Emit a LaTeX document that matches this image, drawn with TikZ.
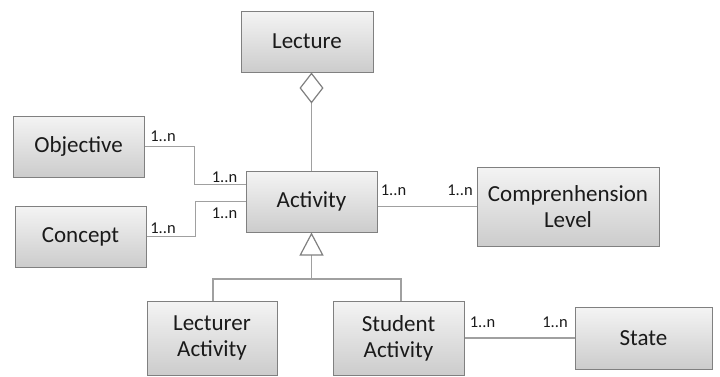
\documentclass[tikz,border=0pt]{standalone}
\usepackage{fontspec}
\setmainfont{Carlito}
\usetikzlibrary{arrows.meta}
\definecolor{boxborder}{HTML}{808080}
\definecolor{boxtop}{HTML}{F4F4F4}
\definecolor{boxbot}{HTML}{CCCCCC}
\definecolor{linecol}{HTML}{A0A0A0}
\definecolor{txt}{HTML}{1A1A1A}
\tikzset{
  cls/.style={draw=boxborder, line width=1pt, top color=boxtop, bottom color=boxbot,
    align=center, text=txt, inner sep=0pt,
    font=\fontsize{23}{26}\selectfont},
  conn/.style={draw=linecol, line width=1.2pt},
  mult/.style={text=txt, inner sep=0pt, font=\fontsize{16.5}{18}\selectfont}
}
\begin{document}
\begin{tikzpicture}[x=1pt,y=-1pt]
\useasboundingbox (0,0) rectangle (720,376);
\node[cls, minimum width=132pt, minimum height=61pt] (lecture) at (307,41.5) {Lecture};
\node[cls, minimum width=131pt, minimum height=61pt] (activity) at (311.5,201.5) {Activity};
\node[cls, minimum width=131pt, minimum height=61pt] (objective) at (78.5,146.5) {Objective};
\node[cls, minimum width=131pt, minimum height=61pt] (concept) at (80.5,236.5) {Concept};
\node[cls, minimum width=182pt, minimum height=79pt] (comp) at (568,206.5) {Comprenhension\\Level};
\node[cls, minimum width=130pt, minimum height=74pt] (lectact) at (212,338) {Lecturer\\Activity};
\node[cls, minimum width=131pt, minimum height=74pt] (studact) at (398.5,338) {Student\\Activity};
\node[cls, minimum width=137pt, minimum height=62pt] (state) at (643.5,338) {State};

% aggregation
\draw[conn, -{Diamond[open, length=31pt, width=24pt, line width=1.2pt, color=boxborder]}]
  (activity.north) -- (activity.north |- lecture.south);
% generalization
\coordinate (junc) at (311.5,279);
\draw[conn, -{Triangle[open, length=23pt, width=24pt, line width=1.2pt, color=boxborder]}]
  (junc) -- (activity.south);
\draw[conn] (lectact.north -| 213,0) |- (junc) -| (studact.north -| 401,0);
% associations
\draw[conn] (objective.east) -- ++(50,0) |- ([yshift=17pt]activity.west);
\draw[conn] (concept.east) -- ++(49,0) |- (activity.west);
\draw[conn] (activity.east |- comp.west) -- (comp.west);
\draw[conn] (studact.east) -- (state.west);

% multiplicities
\node[mult] (m1) at (163,136) {1..n};
\node[mult] (m2) at (224.5,177) {1..n};
\node[mult] (m3) at (224.5,213.5) {1..n};
\node[mult] (m4) at (163,228) {1..n};
\node[mult] (m5) at (393.5,190.5) {1..n};
\node[mult] (m6) at (460,190.5) {1..n};
\node[mult] (m7) at (482.5,322.5) {1..n};
\node[mult] (m8) at (555,322.5) {1..n};
\end{tikzpicture}
\end{document}
